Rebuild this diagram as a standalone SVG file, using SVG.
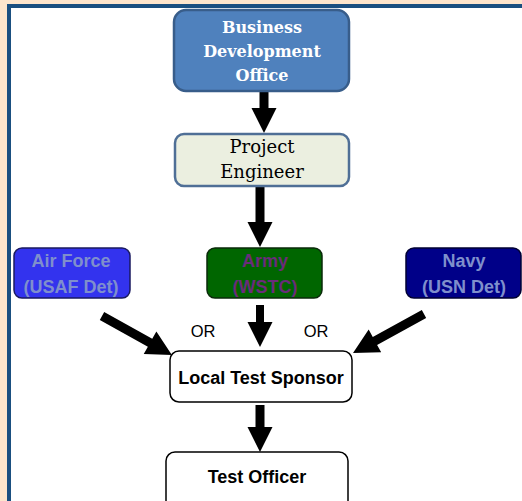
<svg xmlns="http://www.w3.org/2000/svg" width="522" height="501" viewBox="0 0 522 501">
<style>
.serif{font-family:"DejaVu Serif","Liberation Serif",serif;text-anchor:middle}
.sans{font-family:"Liberation Sans",Arial,sans-serif;text-anchor:middle}
.arr{fill:#000}
.svc{stroke-width:1.5}
.plain{fill:#fff;stroke:#000;stroke-width:1.5}
</style>
<rect x="0" y="0" width="522" height="501" fill="#fde5cc"/>
<rect x="9" y="6" width="540" height="520" fill="#fff" stroke="#1a4f80" stroke-width="4"/>
<g id="connectors">
<polygon class="arr" transform="translate(264,91) rotate(90)" points="0,-4.5 17,-4.5 17,-12.5 42,0 17,12.5 17,4.5 0,4.5"/>
<polygon class="arr" transform="translate(260,186) rotate(90)" points="0,-4.5 36,-4.5 36,-12.5 61,0 36,12.5 36,4.5 0,4.5"/>
<polygon class="arr" transform="translate(260,305) rotate(90)" points="0,-4 17,-4 17,-12.5 42,0 17,12.5 17,4 0,4"/>
<polygon class="arr" transform="translate(260,405) rotate(90)" points="0,-4.5 22,-4.5 22,-12.5 47,0 22,12.5 22,4.5 0,4.5"/>
<polygon class="arr" transform="translate(102,316) rotate(29.1)" points="0,-4.5 55,-4.5 55,-13 80,0 55,13 55,4.5 0,4.5"/>
<polygon class="arr" transform="translate(424,314) rotate(151.2)" points="0,-4.5 56,-4.5 56,-13 81,0 56,13 56,4.5 0,4.5"/>
<text class="sans" x="203" y="337" font-size="16.5">OR</text>
<text class="sans" x="316" y="337" font-size="16.5">OR</text>
</g>
<g id="bdo">
<rect x="174" y="10" width="175" height="81" rx="12" fill="#4f81bd" stroke="#385d8a" stroke-width="2.5"/>
<text class="serif" x="262" y="33" font-size="16" font-weight="bold" fill="#fff">Business</text>
<text class="serif" x="262" y="57" font-size="16" font-weight="bold" fill="#fff">Development</text>
<text class="serif" x="262" y="81" font-size="16" font-weight="bold" fill="#fff">Office</text>
</g>
<g id="pe">
<rect x="175" y="134" width="174" height="52" rx="9" fill="#ebefe0" stroke="#4f6f96" stroke-width="2.5"/>
<text class="serif" x="262" y="153" font-size="18" fill="#000">Project</text>
<text class="serif" x="262" y="178" font-size="18" fill="#000">Engineer</text>
</g>
<g id="airforce">
<rect x="14" y="248" width="116" height="50" rx="8" fill="#3333ee" stroke="#1a1a60" class="svc"/>
<text class="sans" x="71" y="267" font-size="18" font-weight="bold" fill="#7f8fcc">Air Force</text>
<text class="sans" x="71" y="293" font-size="18" font-weight="bold" fill="#7f8fcc">(USAF Det)</text>
</g>
<g id="army">
<rect x="207" y="248" width="115" height="50" rx="8" fill="#006600" stroke="#0a2a0a" class="svc"/>
<text class="sans" x="265" y="267" font-size="18" font-weight="bold" fill="#6a2c7a">Army</text>
<text class="sans" x="265" y="293" font-size="18" font-weight="bold" fill="#6a2c7a">(WSTC)</text>
</g>
<g id="navy">
<rect x="406" y="248" width="115" height="50" rx="8" fill="#000088" stroke="#000033" class="svc"/>
<text class="sans" x="464" y="267" font-size="18" font-weight="bold" fill="#7f8fcc">Navy</text>
<text class="sans" x="464" y="293" font-size="18" font-weight="bold" fill="#7f8fcc">(USN Det)</text>
</g>
<g id="lts">
<rect x="170" y="351" width="182" height="51" rx="9" class="plain"/>
<text class="sans" x="261" y="384" font-size="18" font-weight="bold" fill="#000">Local Test Sponsor</text>
</g>
<g id="to">
<rect x="166" y="452" width="182" height="60" rx="9" class="plain"/>
<text class="sans" x="257" y="483" font-size="18" font-weight="bold" fill="#000">Test Officer</text>
</g>
</svg>
